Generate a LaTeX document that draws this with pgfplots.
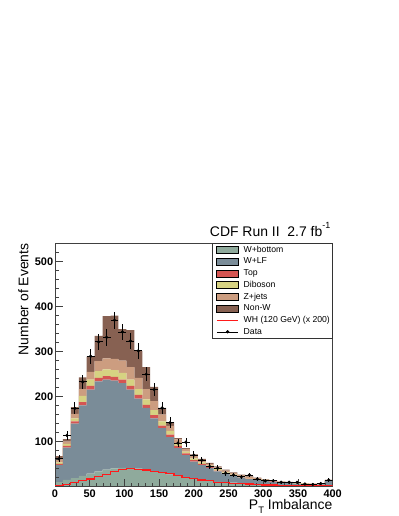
\documentclass[border=0pt]{standalone}
\usepackage{fontspec}
\setmainfont{Liberation Sans}
\usepackage{pgfplots}
\pgfplotsset{compat=1.18}
\usepackage{pgfplotstable}

\definecolor{cWb}{HTML}{8FAA9C}
\definecolor{cWlf}{HTML}{7A8C98}
\definecolor{cTop}{HTML}{D55552}
\definecolor{cDib}{HTML}{D6D282}
\definecolor{cZj}{HTML}{CC9D80}
\definecolor{cNonW}{HTML}{876152}
\definecolor{cSig}{HTML}{FF1A1A}

% backgrounds, one row per bin (left edge), last row closes the histogram
\pgfplotstableread{
x wb wlf top dib zj nonw
0 10 38 3 3 6 8
11.4286 15 72 4 4 5 6
22.8571 19 121 5 7 10 15
34.2857 24 157 7 14 15 26
45.7143 29 187 8 14 17 34
57.1429 34 200 8 15 22 56
68.5714 38 200 8 15 24 94
80 41 195 8 15 25 96
91.4286 42 188 8 15 27 70
102.857 42 174 8 14 28 82
114.286 40 156 8 13 25 60
125.714 37 138 7 12 23 49
137.143 33 119 7 11 20 32
148.571 30 100 6 9 15 15
160 27 83 6 8 11 8
171.429 24 62 5 6 8 3
182.857 21 49 4 4 6 2
194.286 18 38 3 4 5 4
205.714 15 33 3 3 5 3
217.143 13 29 2 3 4 2
228.571 11 23 2 3 4 2
240 10 18 2 2 4 2
251.429 9 15 1 2 3 2
262.857 8 12 1 2 3 1
274.286 7 10 1 1 3 1
285.714 6 9 1 1 2 1
297.143 5 8 1 1 1 1
308.571 4 7 1 0 2 0
320 4 5 1 0 2 0
331.429 3 5 1 0 1 1
342.857 3 4 0 1 1 0
354.286 2 4 0 1 1 0
365.714 2 3 0 1 1 0
377.143 2 3 0 0 1 0
388.571 4 9 0 1 1 0
400 4 9 0 1 1 0
}\bkg

% WH (120 GeV) x 200
\pgfplotstableread{
x wh
0 2
11.4286 5
22.8571 9
34.2857 13
45.7143 17
57.1429 22
68.5714 27
80 34
91.4286 39
102.857 41
114.286 39
125.714 37
137.143 34
148.571 31
160 29
171.429 25
182.857 21
194.286 18
205.714 15
217.143 13
228.571 10
240 9
251.429 8
262.857 7
274.286 6
285.714 5
297.143 4
308.571 4
320 3
331.429 3
342.857 3
354.286 2
365.714 2
377.143 2
388.571 2
400 2
}\sig

% data, bin centres
\pgfplotstableread{
x y ex ey
5.714 62 5.714 7.9
17.143 114 5.714 10.7
28.571 174 5.714 13.2
40 233 5.714 15.3
51.429 290 5.714 17.0
62.857 322 5.714 17.9
74.286 332 5.714 18.2
85.714 370 5.714 19.2
97.143 344 5.714 18.5
108.571 324 5.714 18.0
120 302 5.714 17.4
131.429 250 5.714 15.8
142.857 216 5.714 14.7
154.286 175 5.714 13.2
165.714 142 5.714 11.9
177.143 97 5.714 9.8
188.571 99 5.714 9.9
200 70 5.714 8.4
211.429 59 5.714 7.7
222.857 45 5.714 6.7
234.286 41 5.714 6.4
245.714 30 5.714 5.5
257.143 26 5.714 5.1
268.571 22 5.714 4.7
280 26 5.714 5.1
291.429 17 5.714 4.1
302.857 13 5.714 3.6
314.286 13 5.714 3.6
325.714 10 5.714 3.2
337.143 10 5.714 3.2
348.571 10 5.714 3.2
360 6 5.714 2.4
371.429 5 5.714 2.2
382.857 7 5.714 2.6
394.286 15 5.714 3.9
}\datatab

\pgfplotsset{
    cdfaxis/.style={
        at={(55bp,29.3bp)}, anchor=south west,
        scale only axis, width=277.7bp, height=243.4bp,
        xmin=0, xmax=400, ymin=0, ymax=541,
    },
    swatch/.style={legend image code/.code={
        \path (0bp,0bp);
        \fill[##1] (1.8bp,-3.5bp) rectangle (23.5bp,3.5bp);}},
    sigleg/.style={legend image code/.code={
        \path (0bp,0bp);
        \draw[##1] (1.8bp,0bp) -- (23.5bp,0bp);}},
    dataleg/.style={legend image code/.code={
        \path (0bp,0bp);
        \draw[black, line width=0.6bp] (1.8bp,0bp) -- (23.5bp,0bp);
        \fill[black] (12.65bp,0bp) circle (1.3bp);}},
}

\begin{document}
\begin{tikzpicture}
\path[use as bounding box] (0bp,0bp) rectangle (399bp,516bp);

\begin{axis}[cdfaxis,
    stack plots=y,
    axis on top,
    axis line style={black!75, line width=0.6bp},
    tick style={black!75, line width=0.6bp},
    tick align=inside,
    xtick pos=bottom, ytick pos=left,
    major tick length=8bp, minor tick length=4bp,
    xtick={0,50,...,400}, minor x tick num=4,
    ytick={100,200,...,500}, minor ytick={20,40,...,540},
    tick label style={font=\bfseries\fontsize{11}{13}\selectfont},
    /pgf/number format/assume math mode=true,
    xticklabel style={inner sep=0pt, yshift=-2.6bp},
    yticklabel style={inner sep=0pt, xshift=-1.7bp},
]
\addplot[fill=cWb, draw=none, const plot mark left] table[x=x, y=wb]{\bkg} \closedcycle;
\addplot[fill=cWlf, draw=none, const plot mark left] table[x=x, y=wlf]{\bkg} \closedcycle;
\addplot[fill=cTop, draw=none, const plot mark left] table[x=x, y=top]{\bkg} \closedcycle;
\addplot[fill=cDib, draw=none, const plot mark left] table[x=x, y=dib]{\bkg} \closedcycle;
\addplot[fill=cZj, draw=none, const plot mark left] table[x=x, y=zj]{\bkg} \closedcycle;
\addplot[fill=cNonW, draw=none, const plot mark left] table[x=x, y=nonw]{\bkg} \closedcycle;
\end{axis}

\begin{axis}[cdfaxis,
    hide axis,
    legend style={at={(rel axis cs:1,1)}, anchor=north east,
        draw=black!80, line width=0.6bp, fill=white,
        inner xsep=2.5bp, inner ysep=0.5bp,
        column sep=4.6bp, row sep=0pt,
        font=\fontsize{8.7}{10.4}\selectfont,
        cells={anchor=west},
        nodes={inner xsep=0pt, inner ysep=1.7bp, text height=6.5bp, text depth=1.8bp}},
]
\addlegendimage{swatch, fill=cWb}
\addlegendentry{W+bottom}
\addlegendimage{swatch, fill=cWlf}
\addlegendentry{W+LF}
\addlegendimage{swatch, fill=cTop}
\addlegendentry{Top}
\addlegendimage{swatch, fill=cDib}
\addlegendentry{Diboson}
\addlegendimage{swatch, fill=cZj}
\addlegendentry{Z+jets}
\addlegendimage{swatch, fill=cNonW}
\addlegendentry{Non-W}

\addplot[cSig, line width=1.2bp, const plot mark left, mark=none, sigleg]
    table[x=x, y=wh]{\sig};
\addlegendentry{WH (120 GeV) (x 200)}

\addplot[black, only marks, mark=*, mark size=1.4bp, dataleg,
    error bars/.cd, x dir=both, x explicit, y dir=both, y explicit,
    error mark=none, error bar style={line width=0.8bp, black}]
    table[x=x, y=y, x error=ex, y error=ey]{\datatab};
\addlegendentry{Data}
\end{axis}

\node[anchor=base east, inner sep=0pt, font=\fontsize{14}{16}\selectfont]
    at (330.5bp,279.5bp) {CDF Run II\ \ 2.7 fb\raisebox{0.55em}{\fontsize{9}{10}\selectfont -1}};
\node[rotate=90, anchor=base east, inner sep=0pt, font=\fontsize{14}{16}\selectfont]
    at (28.3bp,272.7bp) {Number of Events};
\node[anchor=base east, inner sep=0pt, font=\fontsize{14}{16}\selectfont]
    at (332.5bp,7bp) {P\raisebox{-0.3em}{\fontsize{9.5}{10}\selectfont T} Imbalance};
\end{tikzpicture}
\end{document}
